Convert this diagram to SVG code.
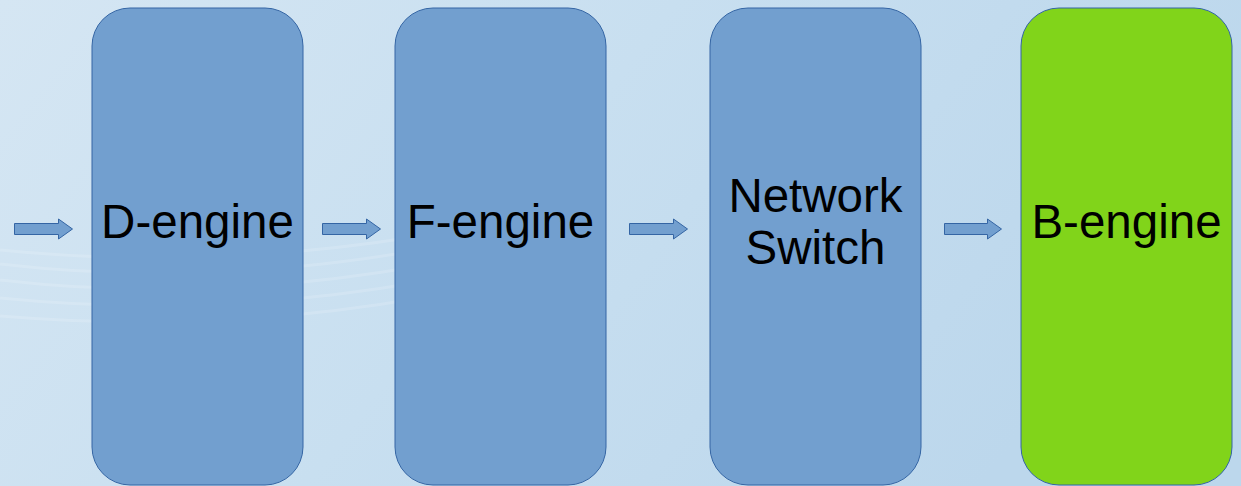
<svg xmlns="http://www.w3.org/2000/svg" width="1241" height="486" viewBox="0 0 1241 486">
<defs>
<linearGradient id="bg" x1="0" y1="0" x2="1" y2="0.3">
<stop offset="0" stop-color="#d5e6f3"/>
<stop offset="0.5" stop-color="#c8dff0"/>
<stop offset="1" stop-color="#bcd7ec"/>
</linearGradient>
<style>
.node{fill:#729fcf;stroke:#3465a4;stroke-width:1}
.green{fill:#81d41a;stroke:#3465a4;stroke-width:1}
.arrow{fill:#729fcf;stroke:#3465a4;stroke-width:1}
.label{font-family:"Liberation Sans",Arial,sans-serif;font-size:47.5px;fill:#000;text-anchor:middle}
.wave{fill:none;stroke:#ffffff;stroke-opacity:0.15;stroke-width:3}
</style>
</defs>
<rect x="0" y="0" width="1241" height="486" fill="url(#bg)"/>
<g id="background-waves">
<path class="wave" d="M0 250 C120 262 260 262 420 236"/>
<path class="wave" d="M0 264 C120 278 260 278 420 250"/>
<path class="wave" d="M0 280 C120 294 260 294 420 266"/>
<path class="wave" d="M0 298 C120 310 260 310 420 282"/>
<path class="wave" d="M0 316 C120 326 260 326 420 298"/>
</g>
<g id="connectors">
<path class="arrow" d="M14.5 223.5 H58.5 V219 L72.5 229 L58.5 239 V234.5 H14.5 Z"/>
<path class="arrow" d="M322.5 223.5 H366.5 V219 L380.5 229 L366.5 239 V234.5 H322.5 Z"/>
<path class="arrow" d="M629.5 223.5 H673.5 V219 L687.5 229 L673.5 239 V234.5 H629.5 Z"/>
<path class="arrow" d="M944.5 223.5 H987.5 V219 L1001.5 229 L987.5 239 V234.5 H944.5 Z"/>
</g>
<g id="d-engine">
<rect class="node" x="92" y="8" width="211" height="477" rx="38" ry="38"/>
<text class="label" x="197.5" y="238">D-engine</text>
</g>
<g id="f-engine">
<rect class="node" x="395" y="8" width="211" height="477" rx="38" ry="38"/>
<text class="label" x="500.5" y="238">F-engine</text>
</g>
<g id="network-switch">
<rect class="node" x="710" y="8" width="211" height="477" rx="38" ry="38"/>
<text class="label" x="815.5" y="212">Network</text>
<text class="label" x="815.5" y="264">Switch</text>
</g>
<g id="b-engine">
<rect class="green" x="1021" y="8" width="211" height="477" rx="38" ry="38"/>
<text class="label" x="1126.5" y="238">B-engine</text>
</g>
</svg>
